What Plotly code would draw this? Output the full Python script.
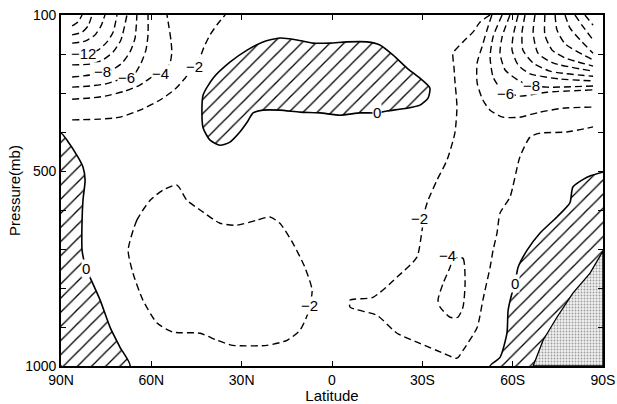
import plotly.graph_objects as go

# ---- axes ----
lat_ticks = [90, 60, 30, 0, -30, -60, -90]
lat_labels = ["90N", "60N", "30N", "0", "30S", "60S", "90S"]
p_ticks = [100, 200, 300, 400, 500, 600, 700, 800, 900, 1000]
p_labels = ["100", "", "", "", "500", "", "", "", "", "1000"]

# ---- negative contours (dashed), top-left family ----
m2_tl_lat = [86.3, 77.0, 70.4, 63.8, 57.1, 52.1, 48.8, 46.2, 43.8, 42.5, 40.5, 38.0, 35.5]
m2_tl_p = [369, 367, 362, 344, 318, 290, 262, 236, 208, 182, 151, 123, 100]
m4_tl_lat = [86.3, 80.4, 75.4, 68.7, 63.8, 59.8, 56.5, 53.8, 53.2, 53.5, 54.1, 54.8]
m4_tl_p = [316, 313, 308, 295, 280, 259, 249, 223, 195, 164, 133, 100]
m6_tl_lat = [86.3, 80.4, 75.4, 71.1, 68.1, 65.4, 63.4, 61.8, 61.1, 61.1]
m6_tl_p = [285, 282, 277, 267, 259, 249, 223, 190, 151, 100]
m8_tl_lat = [86.3, 80.4, 76.4, 73.1, 69.7, 67.1, 65.4, 64.8]
m8_tl_p = [259, 254, 246, 241, 223, 195, 159, 100]
m10_tl_lat = [86.3, 80.4, 76.1, 72.7, 70.1, 68.1]
m10_tl_p = [228, 226, 215, 195, 164, 100]
m12_tl_lat = [86.3, 82.0, 77.7, 74.7, 72.7, 71.4]
m12_tl_p = [198, 198, 190, 169, 144, 100]
m14_tl_lat = [86.3, 82.0, 78.7, 76.7, 75.4]
m14_tl_p = [172, 167, 151, 128, 100]
m16_tl_lat = [86.3, 83.0, 81.0, 79.7]
m16_tl_p = [151, 144, 128, 100]
m18_tl_lat = [86.3, 84.4, 83.0]
m18_tl_p = [128, 118, 100]

# ---- negative contours, top-right family ----
m4_tr_lat = [-53.1, -51.5, -49.8, -48.2, -48.2, -50.1, -52.5, -56.8, -62.4, -69.1, -76.7, -86.7]
m4_tr_p = [100, 138, 182, 223, 274, 318, 344, 362, 362, 349, 339, 336]
m6_tr_lat = [-56.5, -53.5, -52.5, -53.5, -55.8, -58.4, -62.4, -71.4, -86.7]
m6_tr_p = [100, 156, 208, 259, 287, 300, 308, 298, 292]
m8_tr_lat = [-59.1, -56.5, -55.8, -57.5, -61.8, -65.8, -71.4, -86.7]
m8_tr_p = [100, 156, 198, 241, 267, 280, 285, 282]
m10_tr_lat = [-61.8, -60.1, -59.8, -61.8, -65.8, -75.7, -86.7]
m10_tr_p = [100, 156, 190, 228, 251, 264, 269]
m12_tr_lat = [-64.1, -63.1, -63.4, -66.8, -72.4, -86.7]
m12_tr_p = [100, 146, 190, 223, 244, 257]
m14_tr_lat = [-67.4, -66.8, -68.4, -73.4, -86.7]
m14_tr_p = [100, 146, 198, 223, 244]
m16_tr_lat = [-70.7, -70.7, -73.1, -77.4, -86.7]
m16_tr_p = [100, 151, 190, 210, 231]
m18_tr_lat = [-74.1, -74.7, -77.4, -86.7]
m18_tr_p = [100, 138, 174, 215]
m20_tr_lat = [-77.4, -79.0, -82.4, -86.7]
m20_tr_p = [100, 133, 164, 198]
m22_tr_lat = [-80.7, -83.0, -86.7]
m22_tr_p = [100, 126, 164]
m24_tr_lat = [-84.0, -86.7]
m24_tr_p = [100, 126]

# ---- long -2 contour (top, down the middle, tongue to equator, to right edge) ----
m2_mid_lat = [-52.5, -49.2, -46.8, -43.5, -40.2, -40.5, -40.8, -41.5, -40.8, -38.2, -34.9,
              -31.9, -30.9, -29.9, -28.2, -21.6, -13.6, -6.0, -6.0, -14.9, -21.6, -29.2,
              -36.9, -41.5, -43.5, -48.2, -50.1, -52.5, -53.5, -54.8, -55.8, -59.1, -62.4,
              -65.8, -69.1, -78.0, -86.7]
m2_mid_p = [100, 118, 144, 169, 198, 233, 267, 336, 403, 472, 523,
            575, 600, 652, 721, 772, 824, 831, 849, 870, 916, 942,
            967, 980, 960, 901, 831, 747, 703, 659, 608, 567, 464,
            413, 403, 400, 387]

# ---- closed -2 loop (lower left) ----
m2_loop_lat = [60.4, 64.8, 67.7, 66.1, 62.8, 58.1, 52.8, 43.8, 38.2, 32.9, 21.6, 14.9, 10.6,
               8.0, 6.6, 9.0, 13.0, 17.3, 20.6, 24.9, 31.6, 37.2, 43.8, 48.2, 51.5, 56.1, 60.4]
m2_loop_p = [575, 626, 703, 762, 831, 890, 913, 916, 934, 947, 947, 934, 908,
             865, 806, 747, 685, 634, 618, 626, 639, 634, 600, 575, 536, 549, 575]

# ---- closed -4 loop ----
m4_loop_lat = [-40.2, -43.5, -44.2, -43.5, -41.8, -39.2, -35.9, -35.2, -36.9, -39.2, -40.2]
m4_loop_p = [724, 724, 788, 849, 875, 875, 849, 831, 788, 747, 724]

# ---- positive regions (solid, hatched) ----
pos_top_lat = [42.8, 39.5, 33.9, 28.2, 22.9, 17.3, 11.6, 6.3, 0.7, -5.0, -11.6, -15.9, -20.3,
               -24.9, -29.2, -32.5, -31.9, -29.2, -24.9, -18.3, -14.9, -9.3, -2.7, 4.0, 10.6,
               17.3, 22.9, 26.2, 28.2, 30.6, 33.9, 37.2, 40.5, 42.8, 43.2, 42.8]
pos_top_p = [305, 262, 221, 190, 169, 159, 164, 172, 172, 169, 169, 177, 203,
             236, 262, 287, 313, 331, 339, 346, 351, 351, 357, 351, 349,
             344, 344, 351, 375, 400, 426, 434, 421, 390, 349, 305]

pos_left_lat = [90, 88.0, 84.4, 82.7, 82.0, 82.7, 83.0, 83.0, 81.7, 80.4, 77.0, 73.7, 70.4, 67.1, 90, 90]
pos_left_p = [403, 421, 464, 490, 523, 575, 626, 703, 749, 772, 831, 901, 952, 1000, 1000, 403]

pos_right_lat = [-52.5, -55.8, -58.1, -58.5, -59.8, -60.8, -61.8, -64.8, -69.1, -74.7, -79.0,
                 -80.0, -84.7, -89.0, -90, -90, -52.5]
pos_right_p = [1000, 978, 916, 857, 813, 788, 747, 703, 659, 618, 582,
               541, 516, 505, 503, 1000, 1000]

stip_lat = [-66.8, -70.1, -74.7, -80.0, -85.7, -90, -90, -66.8]
stip_p = [1000, 934, 875, 813, 762, 705, 1000, 1000]

# ---- contour labels ----
lab_text = ["−12", "−8", "−6", "−4", "−2", "0", "−6", "−8", "−2", "−4", "−2", "0", "0"]
lab_lat = [82.5, 76.1, 68.4, 56.8, 45.5, -14.9, -57.5, -66.1, -29.2, -38.5, 7.6, 81.7, -60.8]
lab_p = [198, 246, 259, 249, 233, 351, 300, 280, 621, 716, 844, 749, 788]

FONT = "Liberation Sans, Arial, Helvetica, sans-serif"
fig = go.Figure()

hatch = dict(shape="/", size=10, solidity=0.13, fgcolor="black", bgcolor="white", fgopacity=1)

for la, pp in [(pos_top_lat, pos_top_p), (pos_left_lat, pos_left_p), (pos_right_lat, pos_right_p)]:
    fig.add_trace(go.Scatter(x=la, y=pp, mode="lines", fill="toself", fillcolor="white",
                             fillpattern=hatch, line=dict(color="black", width=1.6, shape="spline", smoothing=0.6),
                             hoverinfo="skip", showlegend=False))

fig.add_trace(go.Scatter(x=stip_lat, y=stip_p, mode="lines", fill="toself", fillcolor="#eeeeee",
                         fillpattern=dict(shape=".", size=3, solidity=0.3, fgcolor="#8a8a8a",
                                          bgcolor="#f0f0f0", fgopacity=0.8),
                         line=dict(color="black", width=1.3), hoverinfo="skip", showlegend=False))

dashed = [
    (m2_tl_lat, m2_tl_p), (m4_tl_lat, m4_tl_p), (m6_tl_lat, m6_tl_p), (m8_tl_lat, m8_tl_p),
    (m10_tl_lat, m10_tl_p), (m12_tl_lat, m12_tl_p), (m14_tl_lat, m14_tl_p), (m16_tl_lat, m16_tl_p),
    (m18_tl_lat, m18_tl_p),
    (m4_tr_lat, m4_tr_p), (m6_tr_lat, m6_tr_p), (m8_tr_lat, m8_tr_p), (m10_tr_lat, m10_tr_p),
    (m12_tr_lat, m12_tr_p), (m14_tr_lat, m14_tr_p), (m16_tr_lat, m16_tr_p), (m18_tr_lat, m18_tr_p),
    (m20_tr_lat, m20_tr_p), (m22_tr_lat, m22_tr_p), (m24_tr_lat, m24_tr_p),
    (m2_mid_lat, m2_mid_p), (m2_loop_lat, m2_loop_p), (m4_loop_lat, m4_loop_p),
]
for la, pp in dashed:
    fig.add_trace(go.Scatter(x=la, y=pp, mode="lines",
                             line=dict(color="black", width=1.4, dash="7px,4px", shape="spline", smoothing=0.6),
                             hoverinfo="skip", showlegend=False))

for t, la, pp in zip(lab_text, lab_lat, lab_p):
    fig.add_annotation(x=la, y=pp, text=t, showarrow=False, bgcolor="white", borderpad=0,
                       font=dict(family=FONT, size=15, color="black"))

axis_common = dict(showline=True, linecolor="black", linewidth=1.6, mirror="ticks",
                   ticks="inside", ticklen=5, tickwidth=1.2, tickcolor="black",
                   showgrid=False, zeroline=False, automargin=False,
                   tickfont=dict(family=FONT, size=14, color="black"))

fig.update_xaxes(range=[90, -90], tickvals=lat_ticks, ticktext=lat_labels, ticklabelstandoff=0,
                 title=dict(text="Latitude", font=dict(family=FONT, size=15, color="black"), standoff=6),
                 **axis_common)
fig.update_yaxes(range=[1000, 100], tickvals=p_ticks, ticktext=p_labels,
                 title=dict(text="Pressure(mb)", font=dict(family=FONT, size=15, color="black"), standoff=1),
                 **axis_common)

fig.update_layout(width=617, height=404, margin=dict(l=61, r=14, t=15, b=38),
                  paper_bgcolor="white", plot_bgcolor="white", showlegend=False)

fig.write_html("out.html")
